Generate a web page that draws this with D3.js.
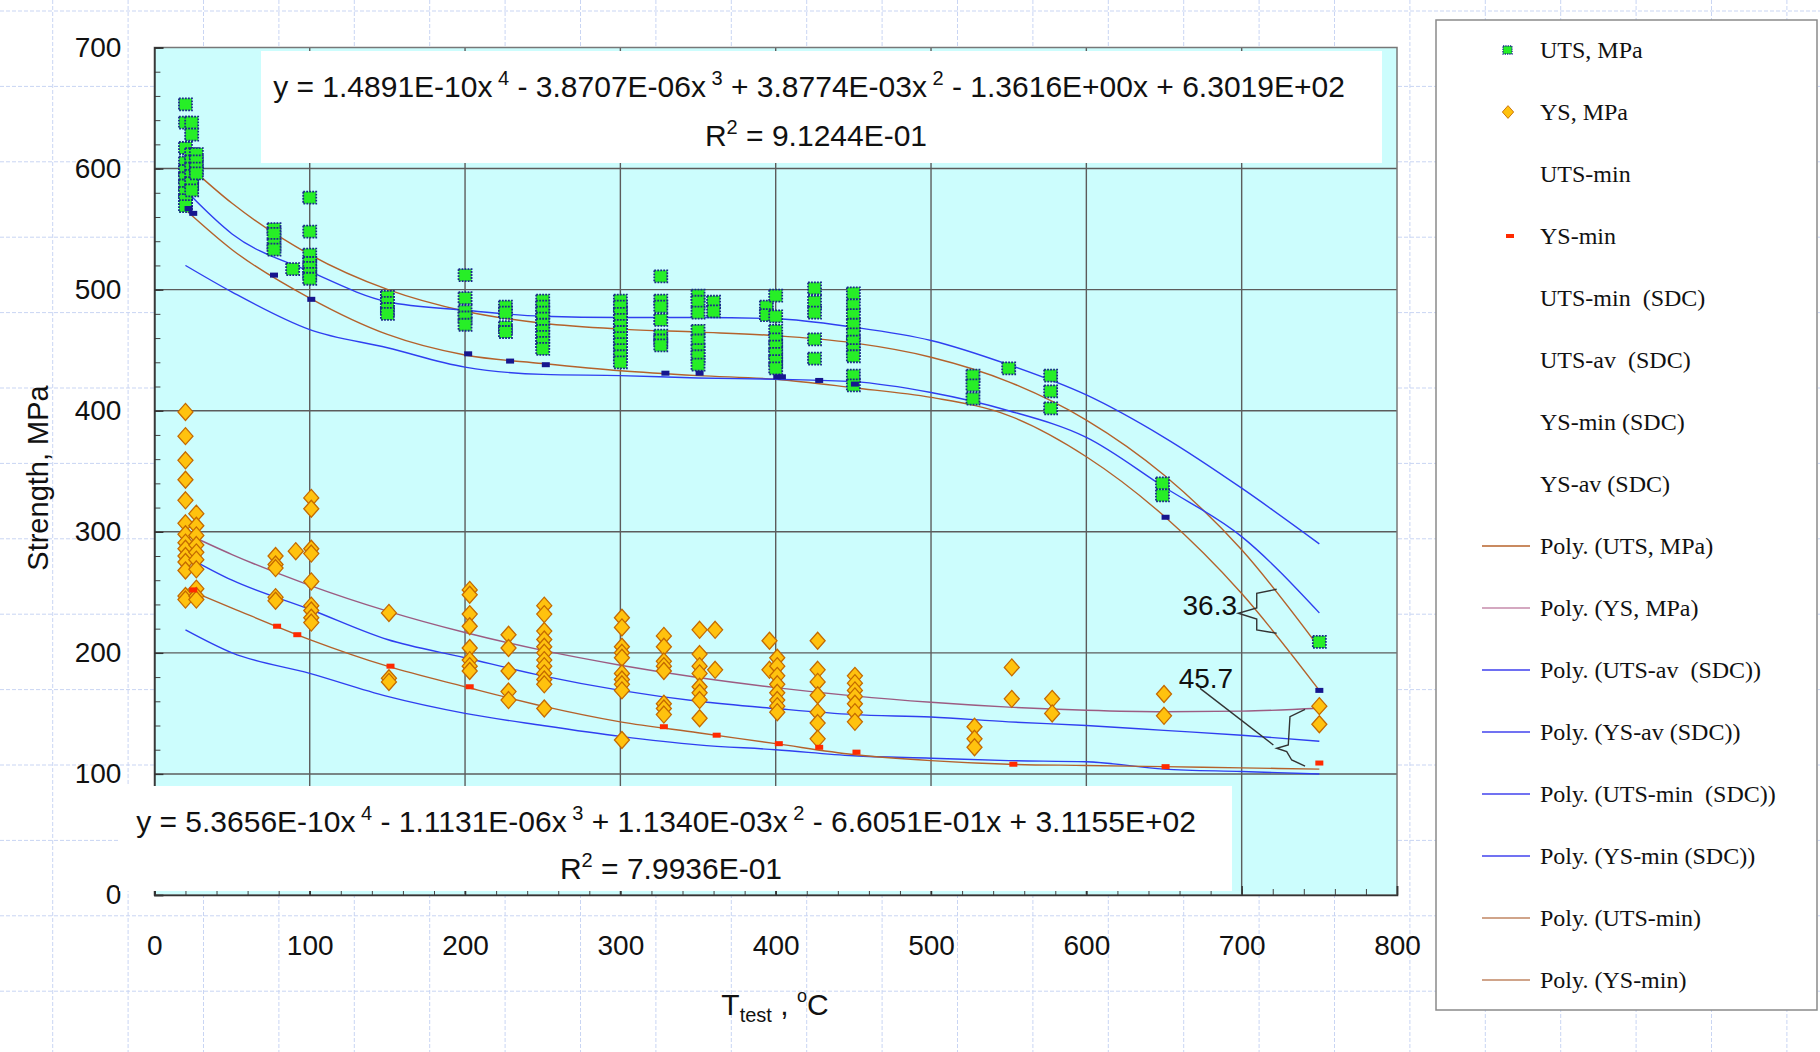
<!DOCTYPE html>
<html>
<head>
<meta charset="utf-8">
<script src="https://cdn.jsdelivr.net/npm/d3@7"></script>
<style>
  body { margin: 0; background: #fff; }
  svg { display: block; font-family: Arial, "Liberation Sans", sans-serif; }
</style>
</head>
<body>
<svg id="chart" width="1820" height="1052"></svg>
<script>
// ---- data ----
// UTS measurements [T, MPa]
const utsPoints = [
  [20,653],[20,638],[20,617],[20,605],[20,598],[20,592],[20,586],[20,580],[20,574],[20,569],
  [24,638],[24,628],[24,612],[24,606],[24,600],[24,594],[24,588],[24,582],
  [27,612],[27,606],[27,600],[27,596],
  [77,550],[77,546],[77,537],[77,533],
  [89,517],
  [100,576],[100,548],[100,529],[100,522],[100,518],[100,513],[100,509],
  [150,494],[150,489],[150,484],[150,480],
  [200,512],[200,493],[200,482],[200,477],[200,471],
  [226,486],[226,481],[226,469],[226,465],
  [250,491],[250,486],[250,481],[250,476],[250,471],[250,466],[250,461],[250,456],[250,451],
  [300,491],[300,486],[300,480],[300,475],[300,470],[300,465],[300,460],[300,455],[300,450],[300,445],[300,440],
  [326,511],[326,491],[326,486],[326,475],[326,462],[326,458],[326,454],
  [350,495],[350,490],[350,481],[350,466],[350,458],[350,450],[350,445],[350,438],
  [360,490],[360,482],
  [394,486],[394,479],
  [400,495],[400,478],[400,466],[400,459],[400,453],[400,447],[400,441],[400,435],
  [425,501],[425,490],[425,481],[425,459],[425,443],
  [450,497],[450,487],[450,479],[450,471],[450,463],[450,457],[450,450],[450,445],[450,429],[450,421],
  [527,429],[527,421],[527,410],
  [550,435],
  [577,429],[577,416],[577,402],
  [649,340],[649,330],
  [750,209]
];
const utsMinPoints = [
  [22,567],[25,563],[77,512],[101,492],[202,447],[229,441],[252,438],[329,431],[351,431],
  [401,428],[404,428],[428,425],[451,422],[651,312],[750,169]
];
// YS measurements [T, MPa]
const ysPoints = [
  [20,399],[20,379],[20,359],[20,343],[20,326],[20,307],[20,298],[20,291],[20,286],[20,280],[20,275],[20,268],[20,247],[20,244],
  [27,315],[27,305],[27,297],[27,289],[27,283],[27,277],[27,269],[27,253],[27,247],[27,244],
  [78,280],[78,273],[78,270],[78,246],[78,243],
  [91,284],
  [101,328],[101,319],[101,286],[101,282],[101,259],[101,239],[101,235],[101,229],[101,225],
  [151,233],[151,179],[151,176],
  [203,252],[203,248],[203,232],[203,222],[203,204],[203,194],[203,189],[203,185],
  [228,215],[228,204],[228,185],[228,168],[228,161],
  [251,239],[251,232],[251,218],[251,211],[251,205],[251,200],[251,194],[251,189],[251,183],[251,178],[251,174],[251,154],
  [301,229],[301,221],[301,205],[301,200],[301,196],[301,183],[301,178],[301,174],[301,169],[301,128],
  [328,214],[328,205],[328,193],[328,189],[328,185],[328,158],[328,154],[328,149],
  [351,219],[351,199],[351,189],[351,183],[351,172],[351,167],[351,161],[351,146],
  [361,219],[361,186],
  [396,210],[396,186],
  [401,196],[401,189],[401,181],[401,174],[401,167],[401,161],[401,156],[401,151],
  [427,210],[427,186],[427,176],[427,165],[427,151],[427,142],[427,129],
  [451,181],[451,175],[451,169],[451,164],[451,158],[451,151],[451,143],
  [528,139],[528,129],[528,122],
  [552,188],[552,162],
  [578,162],[578,150],
  [650,166],[650,148],
  [750,156],[750,141]
];
const ysMinPoints = [
  [25,252],[79,222],[92,215],[152,189],[203,172],[328,139],[362,132],[402,125],
  [428,122],[452,118],[553,108],[651,106],[750,109]
];

// trend / SDC curves, values read at these temperatures
const fitT       = [20, 50, 100, 150, 200, 250, 300, 350, 400, 450, 500, 550, 600, 650, 700, 750];
const polyUts    = [604.5,571.3,529.0,500.2,482.2,472.2,467.4,464.9,462.0,456.0,444.2,423.9,392.3,346.9,285.1,204.2];
const polyYs     = [298.8,281.2,255.8,234.5,216.8,202.0,189.8,179.6,171.3,164.5,159.2,155.2,152.6,151.4,151.9,154.2];
const utsAvSdc   = [582,546,515,490,483,478,477,477,476,469,458,438,413,378,336,290];
const utsMinSdc  = [520,498,467,452,436,430,429,427,426,424,415,400,378,337,296,233];
const polyUtsMin = [566,533,493,463,446,439,433,429,426,419,411,396,362,313,249,169];
const ysAvSdc    = [280,260,236,211,196,181,169,160,154,149,147,143,140,136,132,127];
const ysMinSdc   = [219,200,183,164,150,140,131,124,120,115,113,111,110,104,102,100];
const polyYsMin  = [253,237,211,189,172,156,143,134,125,116,111,108,107,106,105,104];

const xTicks = [0,100,200,300,400,500,600,700,800];
const yTicks = [0,100,200,300,400,500,600,700];

const legendLabels = [
  "UTS, MPa", "YS, MPa", "UTS-min", "YS-min", "UTS-min  (SDC)", "UTS-av  (SDC)",
  "YS-min (SDC)", "YS-av (SDC)", "Poly. (UTS, MPa)", "Poly. (YS, MPa)",
  "Poly. (UTS-av  (SDC))", "Poly. (YS-av (SDC))", "Poly. (UTS-min  (SDC))",
  "Poly. (YS-min (SDC))", "Poly. (UTS-min)", "Poly. (YS-min)"
];

// equation labels (segments, 1 = superscript)
const eqTop = [["y = 1.4891E-10x",0],[" 4",1],[" - 3.8707E-06x",0],[" 3",1],[" + 3.8774E-03x",0],[" 2",1],[" - 1.3616E+00x + 6.3019E+02",0]];
const eqTopR2 = "9.1244E-01";
const eqBot = [["y = 5.3656E-10x",0],[" 4",1],[" - 1.1131E-06x",0],[" 3",1],[" + 1.1340E-03x",0],[" 2",1],[" - 6.6051E-01x + 3.1155E+02",0]];
const eqBotR2 = "7.9936E-01";

// bracket annotations in data units
const brace1 = [[722.5,252.5],[709.7,249.2],[709.7,237.1],[697.8,232.7],[709.7,228.0],[709.7,218.9],[722.5,216.2]];
const brace2 = [[740.8,153.4],[731.1,147.3],[730.0,123.9],[722.5,121.2],[729.0,118.4],[732.2,111.5],[740.8,106.5]];
const leader2 = [[673.2,170.7],[720.4,123.9]];

// ---- layout ----
const width = 1820, height = 1052;
const plotL = 154.4, plotR = 1397, plotT = 47.5, plotB = 895;

const svg = d3.select("#chart");
const x = d3.scaleLinear().domain([0, 800]).range([plotL, plotR]);
const y = d3.scaleLinear().domain([0, 700]).range([plotB, plotT]);

// faint sheet grid behind everything
const sheet = svg.append("g").attr("stroke", "#c9d5f3").attr("stroke-width", 1).attr("stroke-dasharray", "4,2");
sheet.selectAll(".sv").data(d3.range(52.7, width, 75.4)).join("line")
  .attr("x1", d => d).attr("x2", d => d).attr("y1", 0).attr("y2", height);
sheet.selectAll(".sh").data(d3.range(11, height, 75.4)).join("line")
  .attr("y1", d => d).attr("y2", d => d).attr("x1", 0).attr("x2", width);

// plot area
svg.append("rect")
  .attr("x", plotL).attr("y", plotT).attr("width", plotR - plotL).attr("height", plotB - plotT)
  .attr("fill", "#ccfdfd");

// gridlines
const grid = svg.append("g").attr("stroke", "#5c5c5c").attr("stroke-width", 1.4);
grid.selectAll(".gx").data(xTicks.filter(d => d > 0 && d < 800)).join("line")
  .attr("x1", d => x(d)).attr("x2", d => x(d)).attr("y1", plotT).attr("y2", plotB);
grid.selectAll(".gy").data(yTicks.filter(d => d > 0 && d < 700)).join("line")
  .attr("y1", d => y(d)).attr("y2", d => y(d)).attr("x1", plotL).attr("x2", plotR);

// border
svg.append("rect")
  .attr("x", plotL).attr("y", plotT).attr("width", plotR - plotL).attr("height", plotB - plotT)
  .attr("fill", "none").attr("stroke", "#777").attr("stroke-width", 1.5);

// minor ticks
svg.append("g")
  .attr("transform", `translate(${plotL},0)`)
  .call(d3.axisLeft(y).tickValues(d3.range(0, 701, 20)).tickSize(-6).tickFormat(""))
  .call(g => g.select(".domain").remove())
  .selectAll("line").attr("stroke", "#444");
svg.append("g")
  .attr("transform", `translate(0,${plotB})`)
  .call(d3.axisBottom(x).tickValues(d3.range(0, 801, 20)).tickSize(-6).tickFormat(""))
  .call(g => g.select(".domain").remove())
  .selectAll("line").attr("stroke", "#444");

// major axes
svg.append("g")
  .attr("transform", `translate(${plotL},0)`)
  .call(d3.axisLeft(y).tickValues(yTicks).tickSize(-9).tickPadding(33))
  .call(g => g.select(".domain").attr("stroke", "#333").attr("stroke-width", 1.6))
  .call(g => g.selectAll("line").attr("stroke", "#333").attr("stroke-width", 1.4))
  .call(g => g.selectAll("text").attr("font-size", 28).attr("font-family", "Arial, 'Liberation Sans'").attr("fill", "#111"));
svg.append("g")
  .attr("transform", `translate(0,${plotB})`)
  .call(d3.axisBottom(x).tickValues(xTicks).tickSize(-9).tickPadding(40))
  .call(g => g.select(".domain").attr("stroke", "#333").attr("stroke-width", 1.6))
  .call(g => g.selectAll("line").attr("stroke", "#333").attr("stroke-width", 1.4))
  .call(g => g.selectAll("text").attr("font-size", 28).attr("font-family", "Arial, 'Liberation Sans'").attr("fill", "#111"));

// equation boxes
svg.append("rect").attr("x", 261).attr("y", 51).attr("width", 1121).attr("height", 112).attr("fill", "#fff");
svg.append("rect").attr("x", 119).attr("y", 786).attr("width", 1113).attr("height", 105).attr("fill", "#fff");

// curves
const line = d3.line().x(d => x(d[0])).y(d => y(d[1])).curve(d3.curveMonotoneX);
const curves = [
  { v: polyUts,    c: "#b4622c" },
  { v: polyUtsMin, c: "#b4622c" },
  { v: utsAvSdc,   c: "#2f3ff0" },
  { v: utsMinSdc,  c: "#2f3ff0" },
  { v: polyYs,     c: "#9c5c82" },
  { v: ysAvSdc,    c: "#2f3ff0" },
  { v: ysMinSdc,   c: "#2f3ff0" },
  { v: polyYsMin,  c: "#b4622c" }
];
svg.append("g").attr("fill", "none").attr("stroke-width", 1.4)
  .selectAll("path").data(curves).join("path")
  .attr("stroke", d => d.c)
  .attr("d", d => line(fitT.map((t, i) => [t, d.v[i]])));

// markers
svg.append("g").selectAll("rect").data(utsPoints).join("rect")
  .attr("x", d => x(d[0]) - 6.5).attr("y", d => y(d[1]) - 6)
  .attr("width", 13).attr("height", 12)
  .attr("fill", "#27ee27").attr("stroke", "#1b2a8c")
  .attr("stroke-width", 1.8).attr("stroke-dasharray", "1.8,1.2");

const diamond = "M0,-8.5L7.5,0L0,8.5L-7.5,0Z";
svg.append("g").selectAll("path").data(ysPoints).join("path")
  .attr("transform", d => `translate(${x(d[0])},${y(d[1])})`)
  .attr("d", diamond)
  .attr("fill", "#ffc20e").attr("stroke", "#c46a00").attr("stroke-width", 1.3);

svg.append("g").selectAll("rect").data(utsMinPoints).join("rect")
  .attr("x", d => x(d[0]) - 4).attr("y", d => y(d[1]) - 2.5)
  .attr("width", 8).attr("height", 5).attr("fill", "#16168e");

svg.append("g").selectAll("rect").data(ysMinPoints).join("rect")
  .attr("x", d => x(d[0]) - 4).attr("y", d => y(d[1]) - 2.5)
  .attr("width", 8).attr("height", 5).attr("fill", "#ff2a00");

// equations
function equation(segs, cx, baseline) {
  const t = svg.append("text").attr("x", cx).attr("y", baseline)
    .attr("text-anchor", "middle").attr("font-size", 30).attr("fill", "#111")
    .style("white-space", "pre");
  let up = false;
  segs.forEach(([s, sup]) => {
    const ts = t.append("tspan").text(s);
    if (sup && !up) { ts.attr("dy", -12).attr("font-size", 20); up = true; }
    else if (!sup && up) { ts.attr("dy", 12); up = false; }
    else if (sup) ts.attr("font-size", 20);
  });
}
function r2(val, cx, baseline) {
  const t = svg.append("text").attr("x", cx).attr("y", baseline)
    .attr("text-anchor", "middle").attr("font-size", 30).attr("fill", "#111");
  t.append("tspan").text("R");
  t.append("tspan").attr("dy", -12).attr("font-size", 20).text("2");
  t.append("tspan").attr("dy", 12).text(" = " + val);
}
equation(eqTop, 809, 97);
r2(eqTopR2, 816, 146);
equation(eqBot, 666, 832);
r2(eqBotR2, 671, 879);

// brackets
const poly = d3.line().x(d => x(d[0])).y(d => y(d[1]));
const ann = svg.append("g").attr("fill", "none").attr("stroke", "#333").attr("stroke-width", 1.4);
ann.append("path").attr("d", poly(brace1));
ann.append("path").attr("d", poly(brace2));
ann.append("path").attr("d", poly(leader2));
svg.append("text").attr("x", x(697)).attr("y", y(239)).attr("dy", "0.35em")
  .attr("text-anchor", "end").attr("font-size", 28).attr("fill", "#111").text("36.3");
svg.append("text").attr("x", x(677)).attr("y", y(179)).attr("dy", "0.35em")
  .attr("text-anchor", "middle").attr("font-size", 28).attr("fill", "#111").text("45.7");

// axis titles
svg.append("text").attr("transform", "translate(38,478) rotate(-90)")
  .attr("text-anchor", "middle").attr("dy", "0.35em").attr("font-size", 29).attr("fill", "#111")
  .text("Strength, MPa");
const xt = svg.append("text").attr("x", 775).attr("y", 1015)
  .attr("text-anchor", "middle").attr("font-size", 30).attr("fill", "#111").style("white-space", "pre");
xt.append("tspan").text("T");
xt.append("tspan").attr("dy", 7).attr("font-size", 20).text("test");
xt.append("tspan").attr("dy", -7).text(" , ");
xt.append("tspan").attr("dy", -13).attr("font-size", 18).text("o");
xt.append("tspan").attr("dy", 13).text("C");

// legend
const lg = svg.append("g");
lg.append("rect").attr("x", 1436).attr("y", 20).attr("width", 381).attr("height", 990)
  .attr("fill", "#fff").attr("stroke", "#8a8a8a").attr("stroke-width", 1.5);
const rowY = i => 50 + i * 62;
lg.selectAll("text").data(legendLabels).join("text")
  .attr("x", 1540).attr("y", (d, i) => rowY(i)).attr("dy", "0.35em")
  .attr("font-family", "'Times New Roman', 'Liberation Serif', serif")
  .attr("font-size", 24).attr("fill", "#111").style("white-space", "pre")
  .text(d => d);
lg.append("rect").attr("x", 1503).attr("y", rowY(0) - 4).attr("width", 9).attr("height", 8)
  .attr("fill", "#27ee27").attr("stroke", "#1b2a8c").attr("stroke-width", 1.3).attr("stroke-dasharray", "1.3,1");
lg.append("path").attr("transform", `translate(1508,${rowY(1)}) scale(0.75)`).attr("d", diamond)
  .attr("fill", "#ffc20e").attr("stroke", "#c46a00").attr("stroke-width", 1.2);
lg.append("rect").attr("x", 1506).attr("y", rowY(3) - 2).attr("width", 8).attr("height", 4).attr("fill", "#ff2a00");
const legendLineColors = ["#c98a60", "#d4a8c0", "#6e6ff2", "#7172f2", "#7172f2", "#7172f2", "#d0a48a", "#d0a48a"];
lg.selectAll(".ll").data(legendLineColors).join("line")
  .attr("x1", 1482).attr("x2", 1530)
  .attr("y1", (d, i) => rowY(i + 8)).attr("y2", (d, i) => rowY(i + 8))
  .attr("stroke", d => d).attr("stroke-width", 2);
</script>
</body>
</html>
